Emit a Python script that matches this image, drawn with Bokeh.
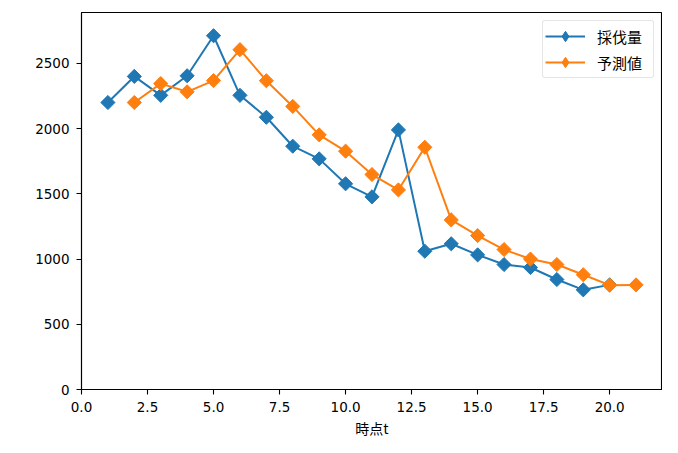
import math
from bokeh.plotting import figure
from bokeh.models import Range1d, FixedTicker, PrintfTickFormatter, Legend, LegendItem
from bokeh.embed import file_html
from bokeh.resources import INLINE

# data
t_actual = [1, 2, 3, 4, 5, 6, 7, 8, 9, 10, 11, 12, 13, 14, 15, 16, 17, 18, 19, 20]
harvest = [2200, 2400, 2255, 2405, 2712, 2255, 2087, 1865, 1768, 1577,
           1477, 1990, 1060, 1117, 1032, 958, 935, 843, 764, 802]
t_pred = [2, 3, 4, 5, 6, 7, 8, 9, 10, 11, 12, 13, 14, 15, 16, 17, 18, 19, 20, 21]
forecast = [2200, 2345, 2282, 2368, 2605, 2367, 2170, 1952, 1827, 1648,
            1530, 1857, 1300, 1180, 1073, 1000, 958, 880, 800, 802]
x_ticks = [0, 2.5, 5, 7.5, 10, 12.5, 15, 17.5, 20]
y_ticks = [0, 500, 1000, 1500, 2000, 2500]
label_actual = "採伐量"
label_pred = "予測値"
x_label = "時点t"

BLUE = "#1f77b4"
ORANGE = "#ff7f0e"
CJK = "Noto Sans CJK JP"
LAT = "DejaVu Sans"

p = figure(width=662, height=441, output_backend="svg", toolbar_location=None,
           x_range=Range1d(0, 22), y_range=Range1d(0, 2890),
           min_border_left=81, min_border_right=0, min_border_top=12, min_border_bottom=52)

p.grid.visible = False
p.outline_line_color = "black"
p.outline_line_width = 1.1
p.background_fill_color = "white"
p.border_fill_color = "white"

for ax in (p.xaxis[0], p.yaxis[0]):
    ax.axis_line_color = "black"
    ax.axis_line_width = 1.1
    ax.major_tick_line_color = "black"
    ax.major_tick_line_width = 1.1
    ax.major_tick_out = 5
    ax.major_tick_in = 0
    ax.minor_tick_out = 0
    ax.minor_tick_in = 0
    ax.major_label_text_font = LAT
    ax.major_label_text_font_size = "13.5px"
    ax.major_label_text_color = "black"
    ax.major_label_standoff = 7

p.xaxis.ticker = FixedTicker(ticks=x_ticks)
p.xaxis.formatter = PrintfTickFormatter(format="%.1f")
p.yaxis.ticker = FixedTicker(ticks=y_ticks)
p.xaxis.axis_label = x_label
p.xaxis.axis_label_text_font = CJK
p.xaxis.axis_label_text_font_style = "normal"
p.xaxis.axis_label_text_font_size = "14px"
p.xaxis.axis_label_text_color = "black"
p.xaxis.axis_label_standoff = 3

ang = math.pi / 4
l1 = p.line(t_actual, harvest, line_color=BLUE, line_width=2)
s1 = p.scatter(t_actual, harvest, marker="square", angle=ang, size=10,
               fill_color=BLUE, line_color=BLUE)
l2 = p.line(t_pred, forecast, line_color=ORANGE, line_width=2)
s2 = p.scatter(t_pred, forecast, marker="square", angle=ang, size=10,
               fill_color=ORANGE, line_color=ORANGE)

# legend-only diamond glyphs: one point placed outside the visible range
d1 = p.scatter(x=[-100], y=[-100], marker="diamond", size=17, fill_color=BLUE, line_color=BLUE)
d2 = p.scatter(x=[-100], y=[-100], marker="diamond", size=17, fill_color=ORANGE, line_color=ORANGE)

legend = Legend(items=[LegendItem(label=label_actual, renderers=[l1, d1]),
                       LegendItem(label=label_pred, renderers=[l2, d2])],
                location="top_right")
legend.margin = 8
legend.padding = 2
legend.spacing = 0
legend.label_height = 26
legend.glyph_height = 26
legend.glyph_width = 40
legend.label_standoff = 12
legend.label_width = 54
legend.label_text_font = CJK
legend.label_text_font_size = "15px"
legend.label_text_color = "black"
legend.border_line_color = "#cccccc"
legend.border_line_width = 1
legend.background_fill_alpha = 0.8
try:
    legend.border_radius = 3
except Exception:
    pass
p.add_layout(legend)

open("out.html", "w").write(file_html(p, INLINE))
